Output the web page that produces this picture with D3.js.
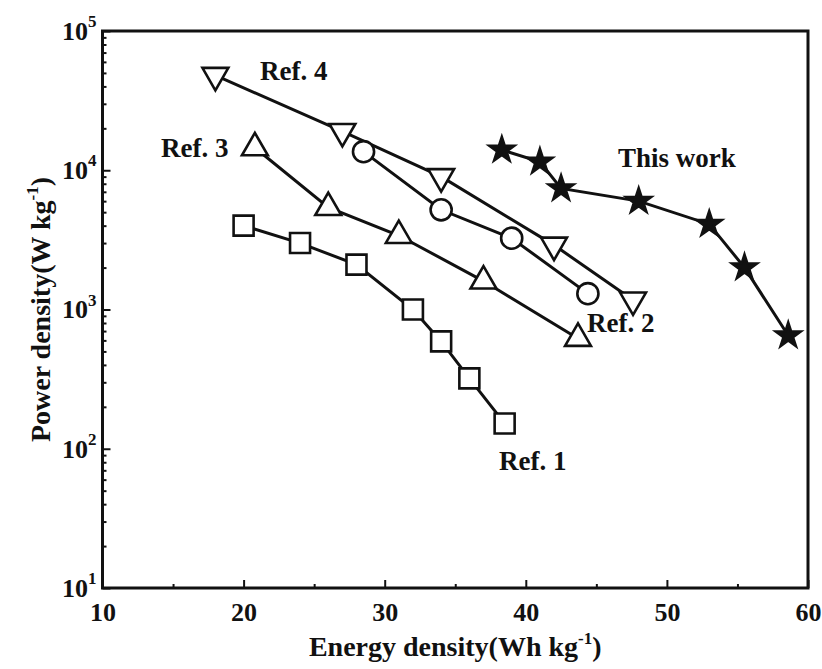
<!DOCTYPE html>
<html>
<head>
<meta charset="utf-8">
<script src="https://cdn.jsdelivr.net/npm/d3@7"></script>
<style>
  body { margin: 0; background: #fff; }
  text { font-family: "Liberation Serif", "Times New Roman", serif; font-weight: bold; fill: #111; }
</style>
</head>
<body>
<div id="chart"></div>
<script>
// energy density (Wh/kg), power density (W/kg)
var ref1 = [[20, 4000], [24, 3000], [28, 2100], [32, 1000], [34, 590], [36, 320], [38.5, 152]];
var ref2 = [[28.5, 13600], [34, 5200], [39, 3250], [44.4, 1300]];
var ref3 = [[20.8, 14500], [26, 5400], [31, 3400], [37, 1600], [43.7, 620]];
var ref4 = [[18, 48000], [27, 19000], [34, 9000], [42, 2900], [47.6, 1170]];
var thisWork = [[38.3, 14000], [41, 11500], [42.5, 7400], [48, 6000], [53, 4100], [55.5, 2000], [58.6, 650]];

var xTicks = [10, 20, 30, 40, 50, 60];
var xMinor = [15, 25, 35, 45, 55];
var yTicks = [10, 100, 1000, 10000, 100000];

var W = 822, H = 669,
    margin = { top: 31, right: 14, bottom: 81, left: 102.5 };
var width = W - margin.left - margin.right,
    height = H - margin.top - margin.bottom;

var svg = d3.select("#chart").append("svg")
    .attr("width", W)
    .attr("height", H);
var g = svg.append("g").attr("transform", "translate(" + margin.left + "," + margin.top + ")");

var x = d3.scaleLinear().domain([10, 60]).range([0, width]);
var y = d3.scaleLog().domain([10, 1e5]).range([height, 0]);

// minor ticks on the log axis: 2..9 of each decade
var yMinor = [];
yTicks.slice(0, -1).forEach(function(d) {
    for (var k = 2; k <= 9; k++) yMinor.push(d * k);
});

// ticks (inward)
g.append("g")
    .attr("transform", "translate(0," + height + ")")
    .call(d3.axisBottom(x).tickValues(xMinor).tickSize(-4).tickFormat(""))
    .call(function(a) { a.select(".domain").remove(); })
    .selectAll("line").attr("stroke", "#111").attr("stroke-width", 2);

var xAxis = g.append("g")
    .attr("transform", "translate(0," + height + ")")
    .call(d3.axisBottom(x).tickValues(xTicks).tickSize(-8).tickPadding(15).tickFormat(d3.format("d")));
xAxis.select(".domain").remove();
xAxis.selectAll("line").attr("stroke", "#111").attr("stroke-width", 2);
xAxis.selectAll("text").attr("font-size", 26).attr("fill", "#111")
    .style("font-family", "'Liberation Serif', serif").style("font-weight", "bold");

g.append("g")
    .call(d3.axisLeft(y).tickValues(yMinor).tickSize(-4).tickFormat(""))
    .call(function(a) { a.select(".domain").remove(); })
    .selectAll("line").attr("stroke", "#111").attr("stroke-width", 2);

var yAxis = g.append("g")
    .call(d3.axisLeft(y).tickValues(yTicks).tickSize(-8).tickPadding(6).tickFormat(""));
yAxis.select(".domain").remove();
yAxis.selectAll("line").attr("stroke", "#111").attr("stroke-width", 2);
yAxis.selectAll(".tick text").each(function(d) {
    var t = d3.select(this)
        .attr("font-size", 26)
        .attr("fill", "#111")
        .style("font-family", "'Liberation Serif', serif")
        .style("font-weight", "bold");
    t.append("tspan").text("10");
    t.append("tspan").attr("font-size", 17).attr("dy", "-0.75em").text(Math.round(Math.log10(d)));
});

// frame
g.append("rect")
    .attr("width", width)
    .attr("height", height)
    .attr("fill", "none")
    .attr("stroke", "#111")
    .attr("stroke-width", 3);

// axis titles
var xt = svg.append("text")
    .attr("x", margin.left + width / 2)
    .attr("y", 656)
    .attr("text-anchor", "middle")
    .attr("font-size", 28);
xt.append("tspan").text("Energy density(Wh kg");
xt.append("tspan").attr("font-size", 17).attr("dy", -12).text("-1");
xt.append("tspan").attr("dy", 12).text(")");

var yt = svg.append("text")
    .attr("transform", "translate(50," + (margin.top + height / 2) + ") rotate(-90)")
    .attr("text-anchor", "middle")
    .attr("font-size", 28);
yt.append("tspan").text("Power density(W kg");
yt.append("tspan").attr("font-size", 17).attr("dy", -12).text("-1");
yt.append("tspan").attr("dy", 12).text(")");

// series
var line = d3.line()
    .x(function(d) { return x(d[0]); })
    .y(function(d) { return y(d[1]); });

var series = [
    { data: ref1, symbol: d3.symbolSquare, size: 400, rot: 0, fill: "#fff" },
    { data: ref3, symbol: d3.symbolTriangle, size: 290, rot: 0, fill: "#fff" },
    { data: ref2, symbol: d3.symbolCircle, size: 350, rot: 0, fill: "#fff" },
    { data: ref4, symbol: d3.symbolTriangle, size: 290, rot: 180, fill: "#fff" },
    { data: thisWork, symbol: d3.symbolStar, size: 190, rot: 0, fill: "#111" }
];

series.forEach(function(s) {
    g.append("path")
        .datum(s.data)
        .attr("d", line)
        .attr("fill", "none")
        .attr("stroke", "#111")
        .attr("stroke-width", 3);
});

series.forEach(function(s) {
    g.append("g").selectAll("path")
        .data(s.data)
        .enter().append("path")
        .attr("transform", function(d) {
            return "translate(" + x(d[0]) + "," + y(d[1]) + ") rotate(" + s.rot + ")";
        })
        .attr("d", d3.symbol().type(s.symbol).size(s.size))
        .attr("fill", s.fill)
        .attr("stroke", "#111")
        .attr("stroke-width", 2.6);
});

// series labels
var labels = [
    { text: "Ref. 4", x: 260, y: 80 },
    { text: "Ref. 3", x: 161, y: 157 },
    { text: "Ref. 2", x: 587, y: 332 },
    { text: "Ref. 1", x: 499, y: 470 },
    { text: "This work", x: 618, y: 167 }
];
svg.append("g").selectAll("text")
    .data(labels)
    .enter().append("text")
    .attr("x", function(d) { return d.x; })
    .attr("y", function(d) { return d.y; })
    .attr("font-size", 27)
    .text(function(d) { return d.text; });
</script>
</body>
</html>
